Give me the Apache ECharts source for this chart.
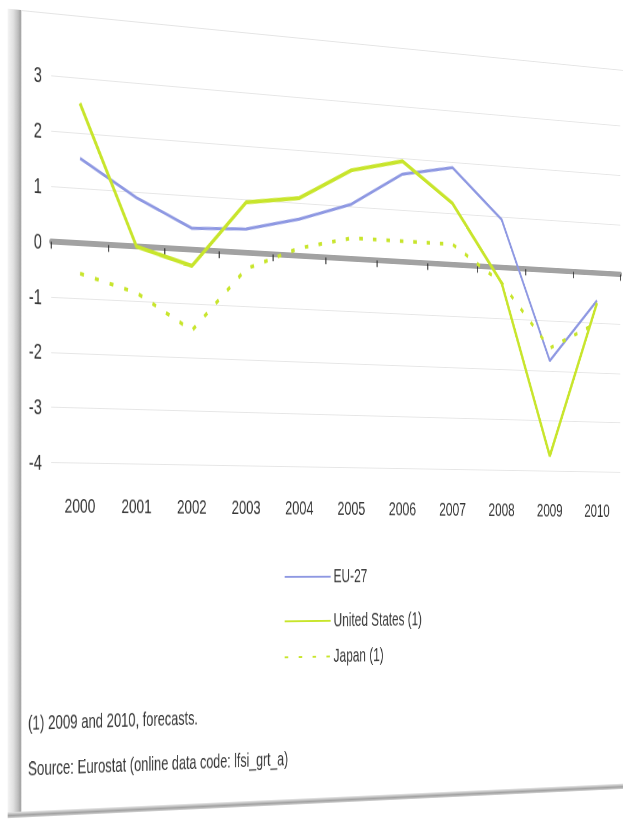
<!DOCTYPE html>
<html>
<head>
<meta charset="utf-8">
<script src="https://cdn.jsdelivr.net/npm/echarts@6/dist/echarts.min.js"></script>
<style>
html,body{margin:0;padding:0;background:#fff;overflow:hidden;width:623px;height:821px}
#stage{position:absolute;left:0;top:0;width:1100px;height:821px;transform-origin:0 0;
  transform:matrix3d(0.68,0.068676,0,0.00012336, 0,1,0,0, 0,0,1,0, -9.35,0,0,1);}
#card{position:absolute;left:25px;top:7px;width:1075px;height:811px;background:#fff;border-top:1px solid #e4e4e4}
#edgeL{position:absolute;left:25px;top:7px;width:21px;height:812px;
  background:linear-gradient(to right,#f4f4f4 0%,#e0e0e0 40%,#bcbcbc 75%,#9e9e9e 92%,#ffffff 100%)}
#edgeB{position:absolute;left:25px;top:813px;width:1075px;height:6px;
  background:linear-gradient(to bottom,#e8e8e8,#a0a0a0 60%,#d4d4d4)}
#chart{position:absolute;left:0;top:0;width:1100px;height:821px}
</style>
</head>
<body>
<div id="stage">
  <div id="card"></div>
  <div id="edgeL"></div>
  <div id="edgeB"></div>
  <div id="chart"></div>
</div>
<script>
// ---- data ----
const years = ['2000','2001','2002','2003','2004','2005','2006','2007','2008','2009','2010'];
const eu27 = [1.55, 0.9, 0.4, 0.45, 0.7, 1.05, 1.7, 1.9, 0.95, -1.8, -0.55];
const unitedStates = [2.55, 0.0, -0.3, 0.95, 1.1, 1.7, 1.95, 1.2, -0.3, -3.7, -0.6];
const japan = [-0.55, -0.85, -1.5, -0.3, 0.15, 0.4, 0.4, 0.4, -0.3, -1.55, -1.0];
const seriesNames = ['EU-27', 'United States (1)', 'Japan (1)'];
const yMin = -4, yMax = 3, yStep = 1;
const footnote = '(1) 2009 and 2010, forecasts.';
const source = 'Source: Eurostat (online data code: lfsi_grt_a)';

// ---- styles ----
const narrow = "'Liberation Sans Narrow','Arial Narrow','Liberation Sans',Arial,sans-serif";
const sans = "'Liberation Sans',Arial,sans-serif";
const blue = '#8e98e2';
const lime = '#c8e52c';
const textColor = '#353535';

const chart = echarts.init(document.getElementById('chart'), null, {renderer: 'svg'});

function legendFor(name, centerY) {
  return {
    data: [name], orient: 'vertical', left: 454.8, top: centerY - 7, padding: 0,
    itemWidth: 76, itemHeight: 14, itemStyle: {opacity: 0},
    textStyle: {fontFamily: sans, fontSize: 20, color: textColor}
  };
}

chart.setOption({
  animation: false,
  backgroundColor: 'transparent',
  grid: {left: 90, top: 70.73, width: 953.33, height: 390.73, outerBoundsMode: 'none'},
  xAxis: [
    {
      type: 'category', data: years, position: 'bottom',
      axisLine: {show: false, onZero: false}, axisTick: {show: false},
      axisLabel: {margin: 33, fontFamily: narrow, fontSize: 21, color: textColor},
      splitLine: {show: false}
    },
    {
      type: 'category', data: years, position: 'bottom', z: 2,
      axisLine: {show: true, onZero: true, lineStyle: {color: '#a2a2a2', width: 6}},
      axisTick: {show: true, length: 7, lineStyle: {color: '#2a2a2a', width: 1.6}},
      axisLabel: {show: false}, splitLine: {show: false}
    }
  ],
  yAxis: {
    type: 'value', min: yMin, max: yMax, interval: yStep,
    axisLine: {show: false}, axisTick: {show: false},
    splitLine: {lineStyle: {color: '#e6e6e6', width: 1}},
    axisLabel: {margin: 14, fontFamily: narrow, fontSize: 22, color: textColor, padding: [0, 0, 6, 0]}
  },
  legend: [
    legendFor(seriesNames[0], 575),
    legendFor(seriesNames[1], 622),
    legendFor(seriesNames[2], 660)
  ],
  series: [
    {name: seriesNames[0], type: 'line', xAxisIndex: 0, data: eu27, symbol: 'none',
     lineStyle: {color: blue, width: 3.2}, itemStyle: {color: blue}, z: 3},
    {name: seriesNames[1], type: 'line', xAxisIndex: 0, data: unitedStates, symbol: 'none',
     lineStyle: {color: lime, width: 4.2}, itemStyle: {color: lime}, z: 4},
    {name: seriesNames[2], type: 'line', xAxisIndex: 0, data: japan, symbol: 'none',
     lineStyle: {color: lime, width: 4, type: [6, 17], cap: 'butt'}, itemStyle: {color: lime}, z: 3}
  ],
  graphic: [
    {type: 'text', x: 55.2, y: 725, style: {text: footnote, fontFamily: sans, fontSize: 20, fill: textColor, verticalAlign: 'middle'}},
    {type: 'text', x: 55.2, y: 770.4, style: {text: source, fontFamily: sans, fontSize: 20, fill: textColor, verticalAlign: 'middle'}}
  ]
});
</script>
</body>
</html>
